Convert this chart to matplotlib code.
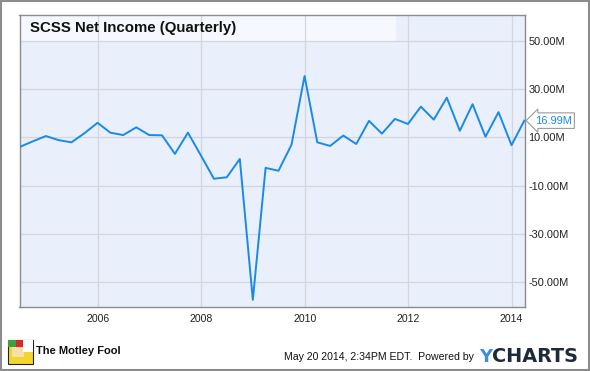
import matplotlib
matplotlib.use('Agg')
import matplotlib.pyplot as plt
import matplotlib.dates as mdates
import matplotlib.patches as mpatches
import pandas as pd

plt.rcParams['font.family'] = ['Liberation Sans', 'DejaVu Sans']

# quarterly net income, millions of USD (2004 Q2 .. 2014 Q1)
quarters = pd.date_range('2004-06-30', periods=40, freq='QE')
net_income = [6.1, 8.4, 10.6, 8.9, 8.0, 11.8, 16.1, 12.0, 11.0, 14.2,
              11.0, 10.9, 3.2, 12.0, 2.5, -7.1, -6.5, 1.1, -57.3, -2.6,
              -3.8, 7.0, 35.5, 8.0, 6.5, 10.8, 7.3, 16.9, 11.6, 17.7,
              15.6, 22.8, 17.4, 26.5, 12.8, 23.8, 10.3, 20.5, 6.8, 16.99]
y_ticks = [50, 30, 10, -10, -30, -50]
y_tick_labels = ['50.00M', '30.00M', '10.00M', '-10.00M', '-30.00M', '-50.00M']
year_ticks = ['2006', '2008', '2010', '2012', '2014']

line_color = '#1a8ae6'
grid_color = '#d3d6da'
frame_color = '#8c8c8c'
y_min, y_max = -60.3, 60.8

fig = plt.figure(figsize=(5.9, 3.71), dpi=100)
ax = fig.add_axes([19.5 / 590, 1 - 307 / 371, (525 - 19.5) / 590, (307 - 15) / 371])
ax.set_facecolor('#e9effb')

ax.plot(quarters, net_income, color=line_color, linewidth=1.4, zorder=3)

ax.set_ylim(y_min, y_max)
ax.set_xlim(pd.Timestamp('2004-06-28'), pd.Timestamp('2014-04-05'))
ax.set_yticks(y_ticks)
ax.set_yticklabels(y_tick_labels)
ax.yaxis.tick_right()
ax.set_xticks([pd.Timestamp(y + '-01-01') for y in year_ticks])
ax.xaxis.set_major_formatter(mdates.DateFormatter('%Y'))
ax.tick_params(axis='x', length=0, labelsize=7.6, colors='#222222', pad=5)
ax.tick_params(axis='y', length=0, labelsize=7.9, colors='#222222', pad=2.5)
ax.grid(True, color=grid_color, linewidth=0.9, zorder=0)
for s in ax.spines.values():
    s.set_color(frame_color)
    s.set_linewidth(1.0)

# title band
title_band = mpatches.Rectangle((0, 1 - 26 / 292), (396 - 19.5) / 505.5, 26 / 292,
                                transform=ax.transAxes, facecolor='#f5f8fe',
                                edgecolor='none', zorder=1)
ax.add_patch(title_band)
fig.text(30.5 / 590, 1 - 28 / 371, 'SCSS Net Income (Quarterly)', fontsize=10.8,
         fontweight='bold', color='#111111', va='center', ha='left')

# last value label
ax.annotate('16.99M', xy=(1.0, (net_income[-1] - y_min) / (y_max - y_min)),
            xycoords='axes fraction', xytext=(7, 0), textcoords='offset points',
            fontsize=8, color=line_color, va='center', ha='left', annotation_clip=False,
            bbox=dict(boxstyle='larrow,pad=0.25', facecolor='white', edgecolor='#9a9a9a',
                      linewidth=0.8))

# footer: simple stand-in for the Motley Fool jester logo
logo_x, logo_y, logo_w, logo_h = 8 / 590, 1 - 364 / 371, 25 / 590, 24 / 371
fig.patches.append(mpatches.Rectangle((logo_x, logo_y), logo_w, logo_h, transform=fig.transFigure,
                                      facecolor='#f3d530', edgecolor='#222222', linewidth=0.8))
fig.patches.append(mpatches.Rectangle((logo_x + logo_w * 0.15, logo_y + logo_h * 0.3),
                                      logo_w * 0.5, logo_h * 0.45, transform=fig.transFigure,
                                      facecolor='#f6dfa8', edgecolor='none'))
fig.patches.append(mpatches.Rectangle((logo_x, logo_y + logo_h * 0.72), logo_w * 0.3, logo_h * 0.28,
                                      transform=fig.transFigure, facecolor='#3aa043',
                                      edgecolor='none'))
fig.patches.append(mpatches.Rectangle((logo_x + logo_w * 0.3, logo_y + logo_h * 0.72),
                                      logo_w * 0.3, logo_h * 0.28, transform=fig.transFigure,
                                      facecolor='#d8262b', edgecolor='none'))
fig.patches.append(mpatches.Rectangle((logo_x + logo_w * 0.6, logo_y + logo_h * 0.5),
                                      logo_w * 0.4, logo_h * 0.5, transform=fig.transFigure,
                                      facecolor='white', edgecolor='none'))
fig.text(36 / 590, 1 - 351.5 / 371, 'The Motley Fool', fontsize=8.0, fontweight='bold',
         color='#111111', va='center', ha='left')
fig.text(474 / 590, 1 - 357 / 371, 'May 20 2014, 2:34PM EDT.  Powered by', fontsize=7.6,
         color='#111111', va='center', ha='right')
fig.text(479 / 590, 1 - 357 / 371, 'Y', fontsize=13, fontweight='bold', family='DejaVu Sans',
         color='#3d8fe0', va='center', ha='left')
fig.text(492 / 590, 1 - 357 / 371, 'CHARTS', fontsize=13.9, fontweight='bold',
         family='DejaVu Sans', color='#1e2a3a', va='center', ha='left')

# outer frame
frame = mpatches.Rectangle((0.001, 0.002), 0.997, 0.996, transform=fig.transFigure,
                           facecolor='none', edgecolor=frame_color, linewidth=1.5)
fig.patches.append(frame)

fig.savefig('out.png', dpi=100, facecolor='white')
